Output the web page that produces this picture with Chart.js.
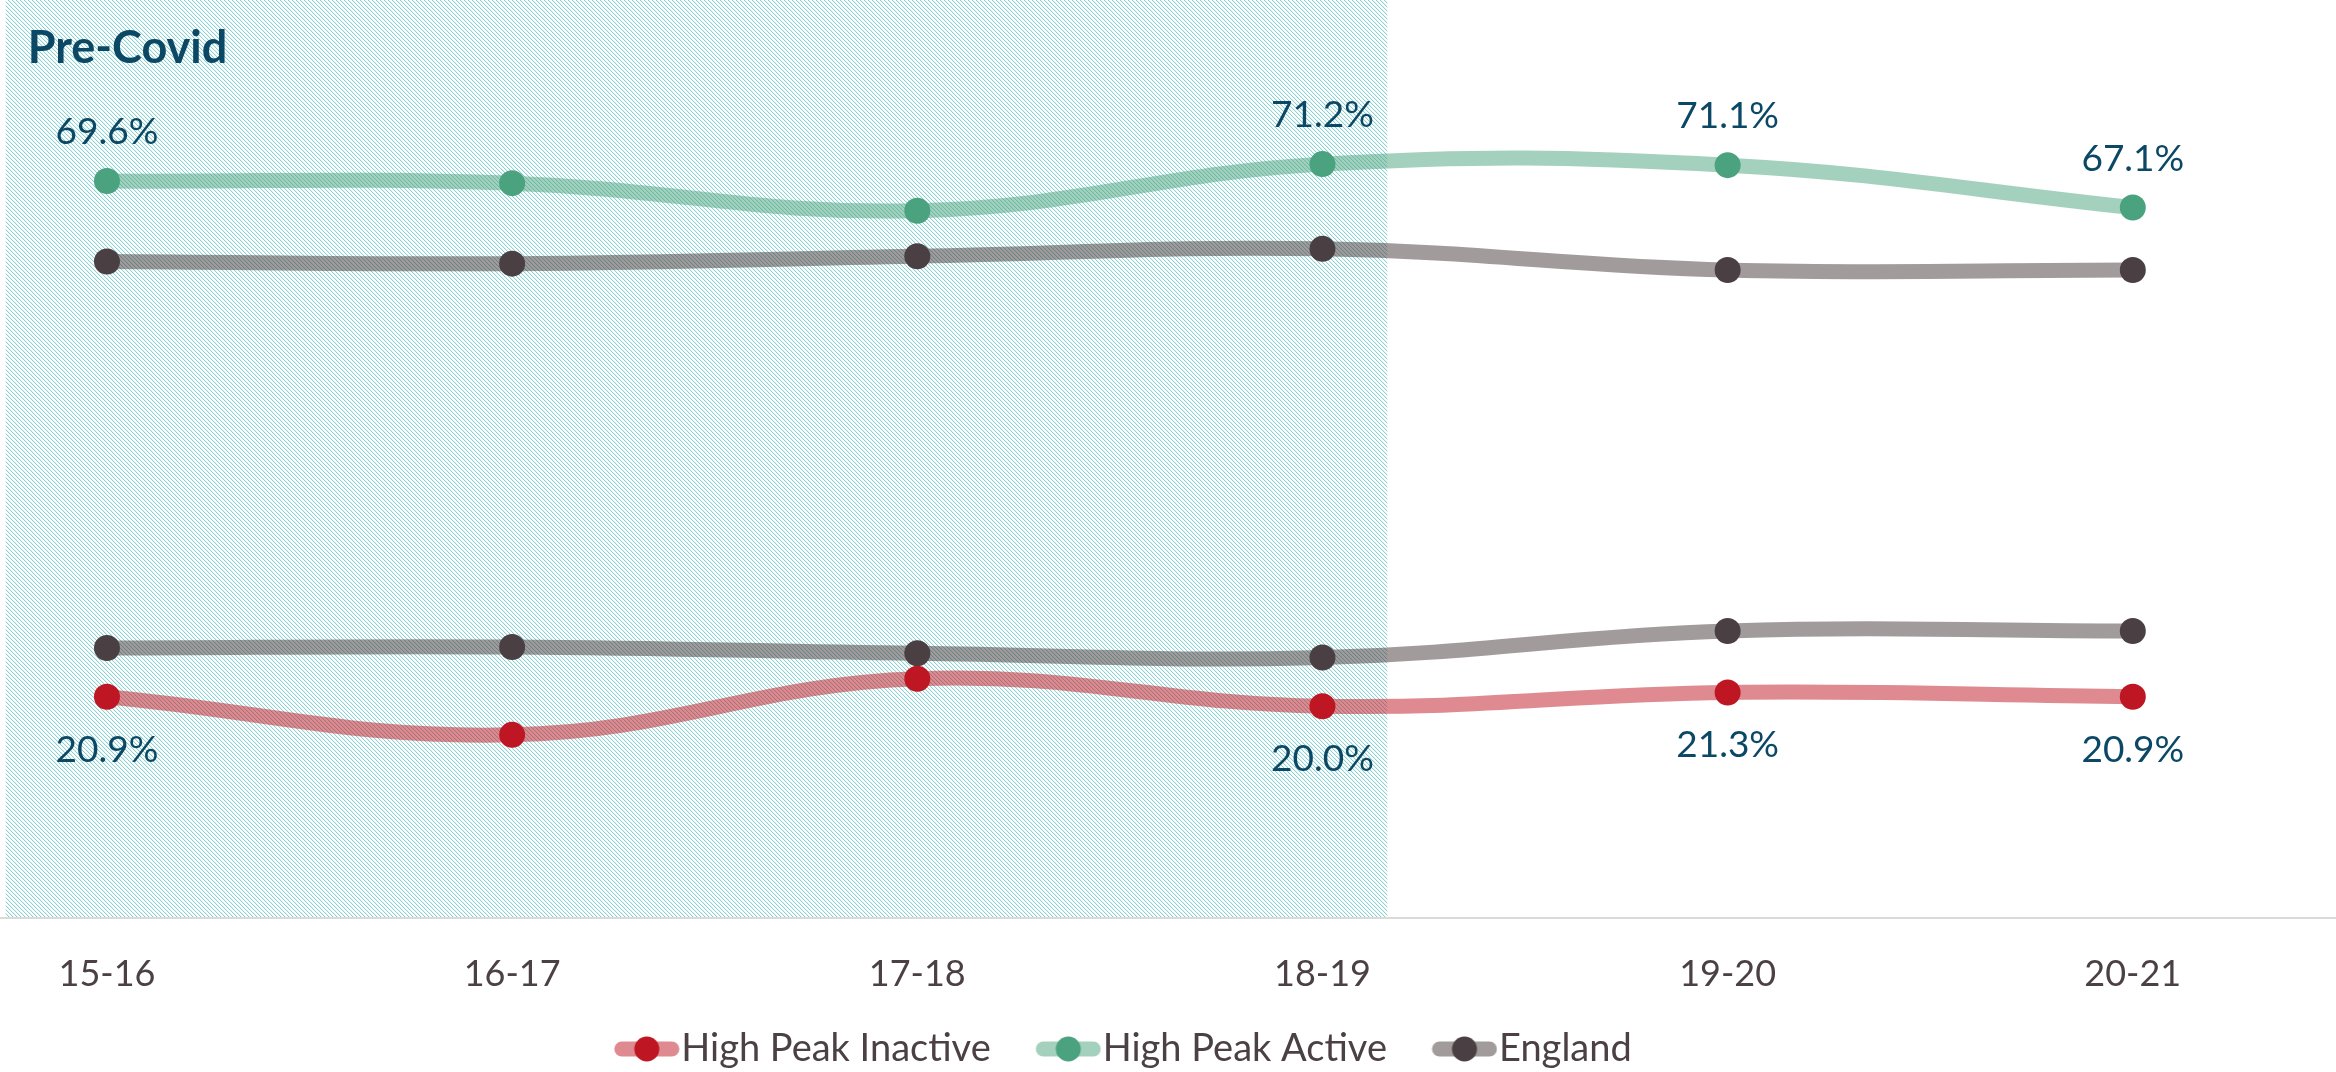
<!DOCTYPE html>
<html>
<head>
<meta charset="utf-8">
<script src="https://cdn.jsdelivr.net/npm/chart.js@4/dist/chart.umd.min.js"></script>
<style>
  html, body { margin: 0; padding: 0; background: #ffffff; }
  #wrap { width: 2336px; height: 1072px; }
</style>
</head>
<body>
<div id="wrap"><canvas id="chart" width="2336" height="1072"></canvas></div>
<script>
// Season labels along the bottom axis
const categories = ['15-16', '16-17', '17-18', '18-19', '19-20', '20-21'];

// Share of adults (%) in each group per season
const highPeakInactive = [20.9, 17.3, 22.6, 20.0, 21.3, 20.9];
const highPeakActive   = [69.6, 69.4, 66.8, 71.2, 71.1, 67.1];
const englandActive    = [62.0, 61.8, 62.5, 63.2, 61.2, 61.2];
const englandInactive  = [25.5, 25.6, 25.0, 24.6, 27.1, 27.1];

// Seasons whose High Peak values carry a printed label
const labelledPoints = [0, 3, 4, 5];

// Shaded pre-covid period, in season units on the x scale
const preCovid = { title: 'Pre-Covid', from: -0.25, to: 3.16 };

const FONT = 'Lato';
const TEXT_GREY = '#4b4043';
const LABEL_BLUE = '#0b4865';

const palette = {
  inactive: { point: '#be1622', line: 'rgba(190, 22, 34, 0.5)' },
  active:   { point: '#4aa37e', line: 'rgba(74, 163, 126, 0.5)' },
  england:  { point: '#4a3f42', line: 'rgba(74, 63, 66, 0.52)' }
};

const toPoints = values => values.map((v, i) => ({ x: i, y: v }));

function lineSeries(label, values, colours) {
  return {
    label,
    data: toPoints(values),
    borderColor: colours.line,
    backgroundColor: colours.point,
    pointBackgroundColor: colours.point,
    pointBorderWidth: 0,
    pointRadius: 13,
    pointHoverRadius: 13,
    borderWidth: 15,
    tension: 0.4,
    fill: false
  };
}

// Legend swatch: a thick pale stroke with the solid marker in its middle.
// The swatch sits at the right of a wider transparent canvas so that the
// legend keeps a tight gap before the text and a wide one between entries.
function legendSwatch(colours) {
  const c = document.createElement('canvas');
  c.width = 118; c.height = 28;
  const g = c.getContext('2d');
  const x0 = 52;
  g.strokeStyle = colours.line;
  g.lineWidth = 15;
  g.lineCap = 'round';
  g.beginPath(); g.moveTo(x0 + 8, 14); g.lineTo(x0 + 58, 14); g.stroke();
  g.fillStyle = colours.point;
  g.beginPath(); g.arc(x0 + 33, 14, 12.5, 0, Math.PI * 2); g.fill();
  return c;
}

// Diagonal hatch used for the pre-covid band
function hatchPattern(ctx) {
  const t = document.createElement('canvas');
  t.width = 4; t.height = 4;
  const g = t.getContext('2d');
  g.fillStyle = '#ffffff';
  g.fillRect(0, 0, 4, 4);
  for (let i = 0; i < 4; i++) {
    g.fillStyle = '#8dd0d0';
    g.fillRect(i, i, 1, 1);
    g.fillStyle = '#e6f5f5';
    g.fillRect((i + 1) % 4, i, 1, 1);
  }
  return ctx.createPattern(t, 'repeat');
}

const decorations = {
  id: 'decorations',
  beforeDatasetsDraw(chart) {
    const { ctx, chartArea, scales: { x } } = chart;
    const left = x.getPixelForValue(preCovid.from);
    const right = x.getPixelForValue(preCovid.to);
    ctx.save();
    ctx.fillStyle = hatchPattern(ctx);
    ctx.fillRect(left, chartArea.top, right - left, chartArea.bottom - chartArea.top);
    // horizontal base line across the full width
    ctx.fillStyle = '#dadada';
    ctx.fillRect(0, chartArea.bottom - 1, chart.width, 2);
    // band title
    ctx.font = `bold 45px ${FONT}`;
    ctx.fillStyle = LABEL_BLUE;
    ctx.textAlign = 'left';
    ctx.textBaseline = 'alphabetic';
    ctx.fillText(preCovid.title, left + 22, chartArea.top + 63);
    ctx.restore();
  },
  afterDatasetsDraw(chart) {
    const { ctx } = chart;
    ctx.save();
    ctx.font = `37px ${FONT}`;
    ctx.fillStyle = LABEL_BLUE;
    ctx.textAlign = 'center';
    ctx.textBaseline = 'alphabetic';
    // inactive labels sit below the points, active labels above
    const placements = [{ index: 0, dy: 65 }, { index: 1, dy: -37 }];
    placements.forEach(({ index, dy }) => {
      const meta = chart.getDatasetMeta(index);
      const values = chart.data.datasets[index].data;
      labelledPoints.forEach(i => {
        const pt = meta.data[i];
        ctx.fillText(values[i].y.toFixed(1) + '%', pt.x, pt.y + dy);
      });
    });
    ctx.restore();
  }
};

const swatches = [
  legendSwatch(palette.inactive),
  legendSwatch(palette.active),
  legendSwatch(palette.england)
];

function build() {
  new Chart(document.getElementById('chart'), {
    type: 'line',
    data: {
      datasets: [
        lineSeries('High Peak Inactive', highPeakInactive, palette.inactive),
        lineSeries('High Peak Active', highPeakActive, palette.active),
        lineSeries('England', englandActive, palette.england),
        lineSeries('England', englandInactive, palette.england)
      ]
    },
    options: {
      responsive: false,
      devicePixelRatio: 1,
      animation: false,
      layout: { autoPadding: false, padding: { top: 0, left: 0, right: 125, bottom: -6 } },
      scales: {
        x: {
          type: 'linear',
          min: -0.264,
          max: 5.193,
          grid: { display: false, drawTicks: false },
          border: { display: false },
          ticks: {
            padding: 35,
            autoSkip: false,
            maxRotation: 0,
            color: TEXT_GREY,
            font: { family: FONT, size: 36 },
            callback: v => categories[v] ?? ''
          },
          afterBuildTicks: scale => {
            scale.ticks = categories.map((_, i) => ({ value: i }));
          },
          afterFit: scale => { scale.height = 102; }
        },
        y: { display: false, min: 0, max: 86.7 }
      },
      plugins: {
        tooltip: { enabled: false },
        legend: {
          position: 'bottom',
          labels: {
            usePointStyle: true,
            pointStyleWidth: 83,
            padding: 10,
            color: TEXT_GREY,
            font: { family: FONT, size: 38 },
            generateLabels: chart => {
              const items = Chart.defaults.plugins.legend.labels.generateLabels(chart);
              return items
                .filter(item => item.datasetIndex < 3)
                .map(item => Object.assign(item, { pointStyle: swatches[item.datasetIndex] }));
            }
          }
        }
      }
    },
    plugins: [decorations]
  });
}

if (document.fonts && document.fonts.load) {
  Promise.all([document.fonts.load(`36px ${FONT}`), document.fonts.load(`bold 45px ${FONT}`)])
    .then(build, build);
} else {
  build();
}
</script>
</body>
</html>
